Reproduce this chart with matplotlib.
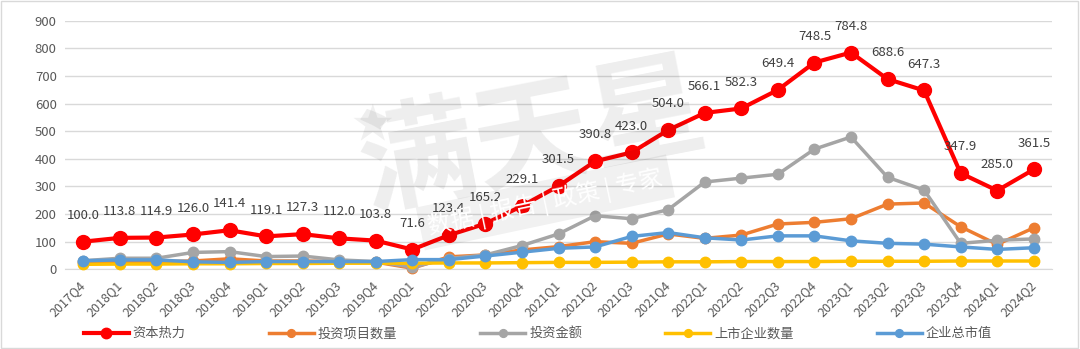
import matplotlib.pyplot as plt
from matplotlib.patches import Rectangle

plt.rcParams['font.family'] = ['Noto Sans CJK SC', 'DejaVu Sans']

# quarters on the x axis
quarters = ['2017Q4', '2018Q1', '2018Q2', '2018Q3', '2018Q4', '2019Q1', '2019Q2',
            '2019Q3', '2019Q4', '2020Q1', '2020Q2', '2020Q3', '2020Q4', '2021Q1',
            '2021Q2', '2021Q3', '2021Q4', '2022Q1', '2022Q2', '2022Q3', '2022Q4',
            '2023Q1', '2023Q2', '2023Q3', '2023Q4', '2024Q1', '2024Q2']

# series (only the red one is labelled)
capital_heat = [100.0, 113.8, 114.9, 126.0, 141.4, 119.1, 127.3, 112.0, 103.8, 71.6,
                123.4, 165.2, 229.1, 301.5, 390.8, 423.0, 504.0, 566.1, 582.3, 649.4,
                748.5, 784.8, 688.6, 647.3, 347.9, 285.0, 361.5]
deal_count = [26, 28, 28, 30, 38, 30, 30, 28, 26, 4, 45, 52, 70, 82, 100, 94, 128,
              112, 124, 164, 170, 183, 236, 240, 154, 90, 150]
deal_amount = [31, 40, 40, 61, 64, 46, 48, 34, 28, 8, 39, 52, 86, 128, 194, 183, 216,
               316, 330, 344, 435, 479, 333, 287, 94, 105, 110]
listed_count = [18, 19, 19, 20, 20, 21, 21, 22, 22, 22, 23, 23, 24, 25, 25, 26, 27,
                27, 28, 28, 28, 29, 29, 29, 30, 30, 30]
market_cap = [31, 34, 34, 27, 25, 28, 28, 28, 28, 35, 35, 48, 62, 76, 81, 119, 133,
              114, 106, 121, 121, 103, 94, 91, 81, 72, 78]

series = [
    ('资本热力', capital_heat, '#FF0000', 3.0, 10),
    ('投资项目数量', deal_count, '#ED7D31', 2.5, 7.5),
    ('投资金额', deal_amount, '#A5A5A5', 2.5, 7.5),
    ('上市企业数量', listed_count, '#FFC000', 2.5, 7.5),
    ('企业总市值', market_cap, '#5B9BD5', 2.5, 7.5),
]

fig = plt.figure(figsize=(10.8, 3.49), dpi=100)
ax = fig.add_axes([0.0602, 0.2284, 0.9139, 0.7123])

x = list(range(len(quarters)))
for i, (name, vals, color, lw, ms) in enumerate(series):
    ax.plot(x, vals, color=color, linewidth=lw, marker='o', markersize=ms,
            label=name, zorder=2 + i, clip_on=False)

# data labels for the red series
for xi, v in zip(x, capital_heat):
    ax.annotate(f'{v:.1f}', (xi, v), xytext=(0, 19), textcoords='offset points',
                ha='center', va='center', fontsize=9.5, color='#404040', zorder=10)

ax.set_xlim(-0.5, len(quarters) - 0.5)
ax.set_ylim(0, 900)
ax.set_yticks(range(0, 901, 100))
ax.set_xticks(x)
ax.set_xticklabels(quarters, rotation=45, ha='right', va='center',
                   rotation_mode='anchor')
ax.tick_params(axis='both', length=0, colors='#595959', labelsize=9.5)
ax.tick_params(axis='x', pad=10, labelsize=9)
ax.tick_params(axis='y', pad=6)
ax.grid(axis='y', color='#d9d9d9', linewidth=1)
ax.set_axisbelow(True)
for side in ['top', 'right', 'left']:
    ax.spines[side].set_visible(False)
ax.spines['bottom'].set_color('#d9d9d9')

leg = fig.legend(loc='center', bbox_to_anchor=(0.498, 0.044), ncol=5, frameon=False,
                 handlelength=3.4, columnspacing=6.3, handletextpad=0.3,
                 fontsize=9.5, numpoints=1, markerscale=0.75)
for t in leg.get_texts():
    t.set_color('#595959')

# faint watermark
fig.text(0.494, 0.6, '满天星', fontsize=84, fontweight='bold', color='black',
         alpha=0.07, rotation=11, ha='center', va='center', zorder=20)
fig.text(0.345, 0.64, '★', fontsize=30, color='black', alpha=0.06,
         ha='center', va='center', zorder=20)
fig.text(0.505, 0.42, '数据 | 报告 | 政策 | 专家', fontsize=17, color='white',
         rotation=12, ha='center', va='center', zorder=20,
         bbox=dict(boxstyle='square,pad=0.35', facecolor='black', alpha=0.055,
                   edgecolor='none'))

# chart border
fig.patches.append(Rectangle((0.001, 0.002), 0.997, 0.995, transform=fig.transFigure,
                             fill=False, edgecolor='#d9d9d9', linewidth=1))

fig.savefig('out.png', dpi=100)
